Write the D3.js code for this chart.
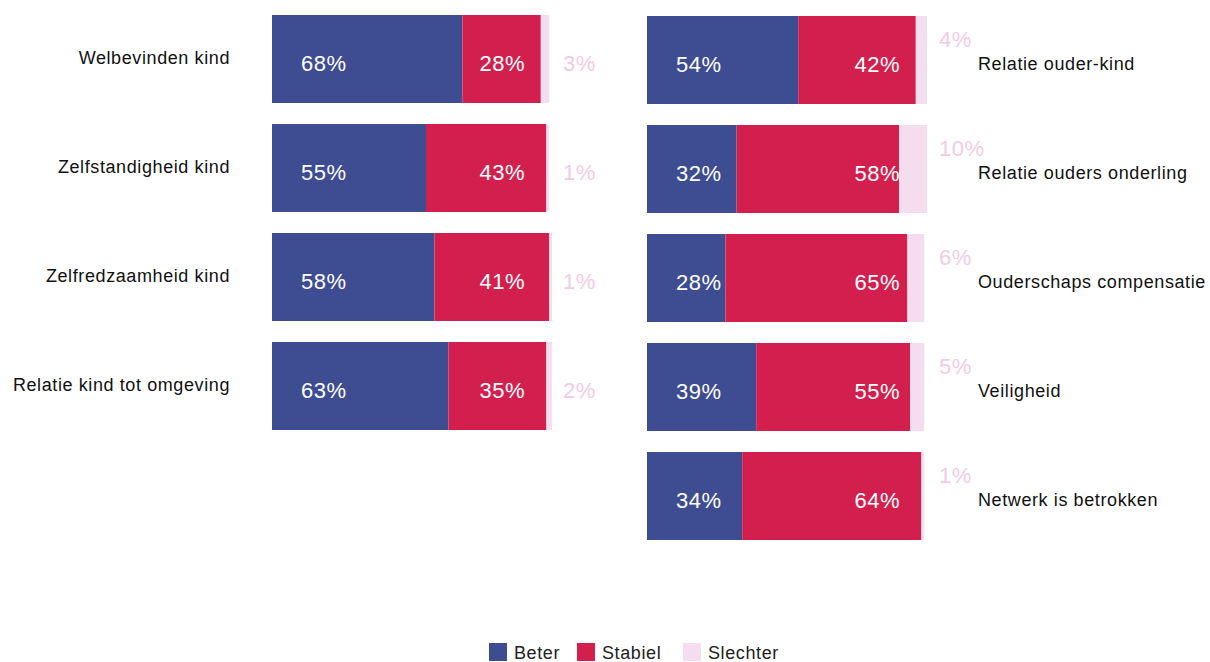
<!DOCTYPE html>
<html>
<head>
<meta charset="utf-8">
<script src="https://cdn.jsdelivr.net/npm/d3@7"></script>
<style>
  body { margin: 0; background: #fff; }
  svg { display: block; font-family: "Liberation Sans", Arial, sans-serif; }
</style>
</head>
<body>
<svg id="chart" width="1210" height="662"></svg>
<script>
// left panel
const leftCategories = ["Welbevinden kind", "Zelfstandigheid kind", "Zelfredzaamheid kind", "Relatie kind tot omgeving"];
const leftBeter = [68, 55, 58, 63];
const leftStabiel = [28, 43, 41, 35];
const leftSlechter = [3, 1, 1, 2];

// right panel
const rightCategories = ["Relatie ouder-kind", "Relatie ouders onderling", "Ouderschaps compensatie", "Veiligheid", "Netwerk is betrokken"];
const rightBeter = [54, 32, 28, 39, 34];
const rightStabiel = [42, 58, 65, 55, 64];
const rightSlechter = [4, 10, 6, 5, 1];

const seriesNames = ["Beter", "Stabiel", "Slechter"];

const COLORS = {Beter: "#3e4c92", Stabiel: "#d31f4e", Slechter: "#f4ddef"};
const SLECHTER_TEXT = "#f1cbe5";
const BAR_W = 280;
const STEP = 109;
const GAP = 21;

const svg = d3.select("#chart");

function drawPanel(categories, beter, stabiel, slechter, x0, y0, side) {
    const rows = categories.map((c, i) => ({
        name: c, Beter: beter[i], Stabiel: stabiel[i], Slechter: slechter[i]
    }));

    const x = d3.scaleLinear().domain([0, 100]).range([x0, x0 + BAR_W]);
    const p = GAP / STEP;
    const y = d3.scaleBand()
        .domain(categories)
        .range([y0, y0 + STEP * (categories.length - p)])
        .paddingInner(p)
        .paddingOuter(0);

    const stacked = d3.stack().keys(seriesNames)(rows);

    const g = svg.append("g");

    g.selectAll("g.series")
        .data(stacked)
        .enter()
        .append("g")
            .attr("class", "series")
            .attr("fill", d => COLORS[d.key])
        .selectAll("rect")
        .data(d => d)
        .enter()
        .append("rect")
            .attr("x", d => x(d[0]))
            .attr("y", d => y(d.data.name))
            .attr("width", d => x(d[1]) - x(d[0]))
            .attr("height", y.bandwidth());

    const mid = d => y(d.name) + y.bandwidth() / 2;

    // beter label, inside blue part
    g.selectAll("text.beter")
        .data(rows)
        .enter()
        .append("text")
            .attr("x", x0 + 29)
            .attr("y", d => mid(d) + 12)
            .attr("fill", "#fff")
            .attr("font-size", 22)
            .attr("letter-spacing", 0.5)
            .text(d => d.Beter + "%");

    // stabiel label, aligned near end of the bar
    g.selectAll("text.stabiel")
        .data(rows)
        .enter()
        .append("text")
            .attr("x", x(100) - 27)
            .attr("y", d => mid(d) + 12)
            .attr("text-anchor", "end")
            .attr("fill", "#fff")
            .attr("font-size", 22)
            .attr("letter-spacing", 0.5)
            .text(d => d.Stabiel + "%");

    // slechter label
    g.selectAll("text.slechter")
        .data(rows)
        .enter()
        .append("text")
            .attr("x", side === "left" ? x(100) + 11 : x(100) + 12)
            .attr("y", d => side === "left" ? mid(d) + 12 : y(d.name) + 31)
            .attr("fill", SLECHTER_TEXT)
            .attr("font-size", 22)
            .attr("letter-spacing", 0.5)
            .text(d => d.Slechter + "%");

    // category labels
    g.selectAll("text.cat")
        .data(rows)
        .enter()
        .append("text")
            .attr("x", side === "left" ? 230 : x(100) + 51)
            .attr("y", d => side === "left" ? mid(d) + 5 : mid(d) + 10)
            .attr("text-anchor", side === "left" ? "end" : "start")
            .attr("fill", "#111")
            .attr("font-size", 18)
            .attr("letter-spacing", 0.6)
            .text(d => d.name);
}

drawPanel(leftCategories, leftBeter, leftStabiel, leftSlechter, 272, 15, "left");
drawPanel(rightCategories, rightBeter, rightStabiel, rightSlechter, 647, 16, "right");

// legend
const legendX = [489, 577, 683];
const legend = svg.append("g");
seriesNames.forEach((name, i) => {
    legend.append("rect")
        .attr("x", legendX[i])
        .attr("y", 643)
        .attr("width", 18)
        .attr("height", 18)
        .attr("fill", COLORS[name]);
    legend.append("text")
        .attr("x", legendX[i] + 25)
        .attr("y", 659)
        .attr("font-size", 18)
        .attr("letter-spacing", 0.6)
        .attr("fill", "#222")
        .text(name);
});
</script>
</body>
</html>
